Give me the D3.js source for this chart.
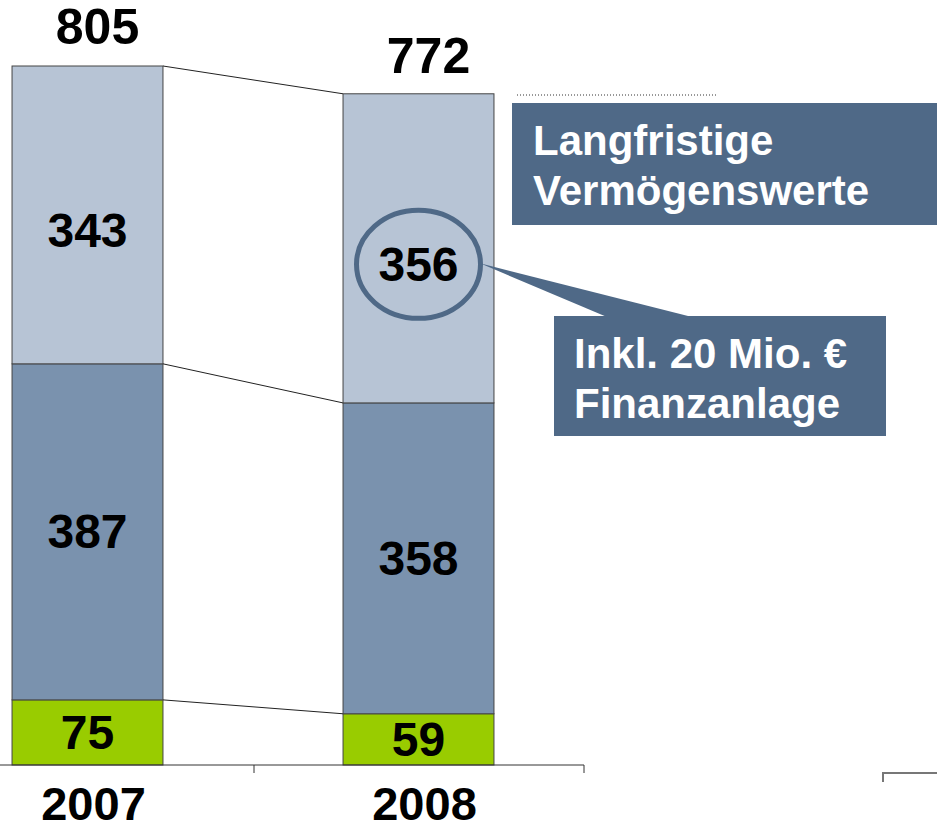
<!DOCTYPE html>
<html>
<head>
<meta charset="utf-8">
<script src="https://cdn.jsdelivr.net/npm/d3@7"></script>
<style>
  body { margin: 0; background: #fff; }
  svg { display: block; font-family: "Liberation Sans", Arial, sans-serif; font-weight: bold; }
</style>
</head>
<body>
<div id="chart"></div>
<script>
// data
var years = ["2007", "2008"];
var kurzfristig = [75, 59];      // green, bottom
var mittel = [387, 358];         // mid blue
var langfristig = [343, 356];    // light blue, top
var totals = [805, 772];
var seriesColors = ["#99cc00", "#7a92ae", "#b7c4d5"];

var width = 937, height = 825;
var boxColor = "#4f6987";

var svg = d3.select("#chart").append("svg")
    .attr("width", width)
    .attr("height", height);

var x = d3.scaleBand().domain(years).range([-78, 584])
    .paddingInner(0.544).paddingOuter(0.272);
var y = d3.scaleLinear().domain([0, 805]).range([765, 66]);

// build stacked rows
var rows = years.map(function (yr, i) {
    return { year: yr, k: kurzfristig[i], m: mittel[i], l: langfristig[i] };
});
var stack = d3.stack().keys(["k", "m", "l"])(rows);

// connector lines between the bars (each segment top)
stack.forEach(function (layer) {
    svg.append("line")
        .attr("x1", x(years[0]) + x.bandwidth())
        .attr("y1", y(layer[0][1]))
        .attr("x2", x(years[1]))
        .attr("y2", y(layer[1][1]))
        .attr("stroke", "#222")
        .attr("stroke-width", 1);
});

// bars
var layers = svg.selectAll(".layer")
    .data(stack)
    .enter()
    .append("g")
    .attr("class", "layer")
    .attr("fill", function (d, i) { return seriesColors[i]; });

layers.selectAll("rect")
    .data(function (d) { return d; })
    .enter()
    .append("rect")
    .attr("x", function (d) { return x(d.data.year); })
    .attr("y", function (d) { return y(d[1]); })
    .attr("width", x.bandwidth())
    .attr("height", function (d) { return y(d[0]) - y(d[1]); })
    .attr("stroke", "#444")
    .attr("stroke-width", 1);

// value labels inside segments
stack.forEach(function (layer, li) {
    svg.selectAll(".lbl" + li)
        .data(layer)
        .enter()
        .append("text")
        .attr("x", function (d) { return x(d.data.year) + x.bandwidth() / 2; })
        .attr("y", function (d) { return (y(d[0]) + y(d[1])) / 2 + (li === 2 ? 16 : 0); })
        .attr("text-anchor", "middle")
        .attr("dominant-baseline", "central")
        .attr("font-size", 48)
        .attr("fill", "#000")
        .text(function (d) { return d[1] - d[0]; });
});

// totals above bars
svg.selectAll(".total")
    .data(totals)
    .enter()
    .append("text")
    .attr("x", function (d, i) { return x(years[i]) + x.bandwidth() / 2 + 10; })
    .attr("y", function (d) { return y(d) - 22; })
    .attr("text-anchor", "middle")
    .attr("font-size", 50)
    .text(function (d) { return d; });

// x axis
var axis = svg.append("g")
    .attr("transform", "translate(0,765)")
    .call(d3.axisBottom(x).tickSize(0).tickFormat(""));
axis.select(".domain").attr("stroke", "#333").attr("d", "M-78,0H584V8");
axis.append("line")
    .attr("x1", 254).attr("x2", 254).attr("y1", 0).attr("y2", 8)
    .attr("stroke", "#333");

svg.selectAll(".year")
    .data(years)
    .enter()
    .append("text")
    .attr("x", function (d) { return x(d) + x.bandwidth() / 2 + 6; })
    .attr("y", 820)
    .attr("text-anchor", "middle")
    .attr("font-size", 47)
    .text(function (d) { return d; });

// fragment of neighbouring axis, bottom right
svg.append("path")
    .attr("d", "M883,782V773H937")
    .attr("fill", "none")
    .attr("stroke", "#777")
    .attr("stroke-width", 2);

// dotted line + legend box
svg.append("line")
    .attr("x1", 517).attr("x2", 716).attr("y1", 95).attr("y2", 95)
    .attr("stroke", "#333")
    .attr("stroke-dasharray", "1,2");

svg.append("rect")
    .attr("x", 512).attr("y", 103).attr("width", 425).attr("height", 122)
    .attr("fill", boxColor);

var legendText = svg.append("text")
    .attr("fill", "#fff")
    .attr("font-size", 42);
legendText.append("tspan").attr("x", 533).attr("y", 155).text("Langfristige");
legendText.append("tspan").attr("x", 533).attr("y", 205).text("Vermögenswerte");

// circle around 356 with callout
var cx = x(years[1]) + x.bandwidth() / 2;
var cy = (y(stack[2][1][0]) + y(stack[2][1][1])) / 2 + 16;

svg.append("path")
    .attr("d", "M480," + (cy - 1) + "L607,317L692,317Z")
    .attr("fill", boxColor);

svg.append("ellipse")
    .attr("cx", cx).attr("cy", cy)
    .attr("rx", 62).attr("ry", 54)
    .attr("fill", "none")
    .attr("stroke", boxColor)
    .attr("stroke-width", 5);

svg.append("rect")
    .attr("x", 554).attr("y", 316).attr("width", 332).attr("height", 120)
    .attr("fill", boxColor);

var noteText = svg.append("text")
    .attr("fill", "#fff")
    .attr("font-size", 42);
noteText.append("tspan").attr("x", 574).attr("y", 368).text("Inkl. 20 Mio. €");
noteText.append("tspan").attr("x", 574).attr("y", 418).text("Finanzanlage");
</script>
</body>
</html>
